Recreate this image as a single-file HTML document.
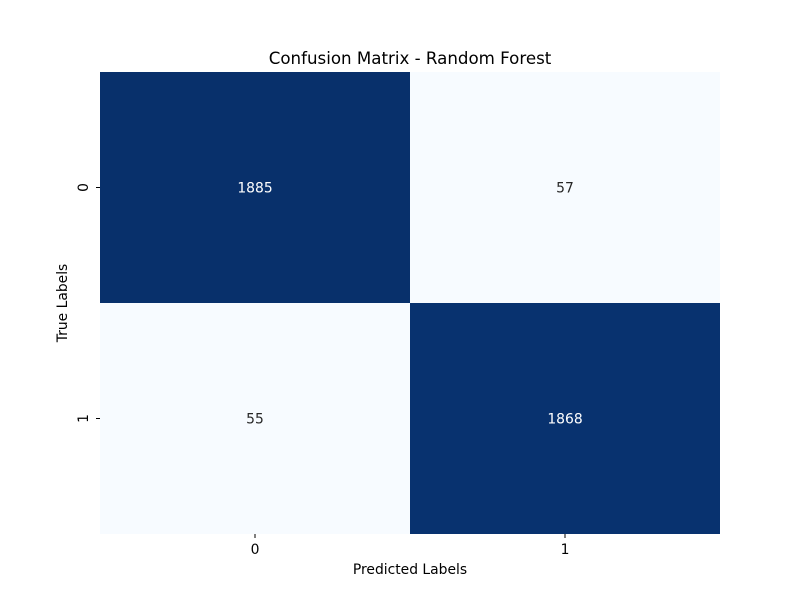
<!DOCTYPE html>
<html><head><meta charset="utf-8"><style>
body{margin:0;background:#fff;}
svg{display:block;font-family:"DejaVu Sans","Liberation Sans",sans-serif;}
</style></head><body>
<svg id="chart" width="800" height="600">
<rect width="800" height="600" fill="#fff"/>
<text x="410" y="64" font-size="16.67" text-anchor="middle">Confusion Matrix - Random Forest</text>
<text x="410" y="574" font-size="13.89" text-anchor="middle">Predicted Labels</text>
<text transform="translate(67,303) rotate(-90)" font-size="13.89" text-anchor="middle">True Labels</text>
<g id="cells"></g>
<g id="ticks"></g>
</svg>
<script>
const predLabels = ["0","1"];
const trueLabels = ["0","1"];
const values = [[1885,57],[55,1868]];

const X0=100,X1=720,Y0=72,Y1=534;
const nx=predLabels.length, ny=trueLabels.length;
const cw=(X1-X0)/nx, ch=(Y1-Y0)/ny;
const xPos=i=>X0+i*cw, yPos=j=>Y0+j*ch;
const flat=values.flat(), vmin=Math.min(...flat), vmax=Math.max(...flat);
const stops=[[247,251,255],[222,235,247],[198,219,239],[158,202,225],[107,174,214],[66,146,198],[33,113,181],[8,81,156],[8,48,107]];
function color(v){
  let t=(v-vmin)/(vmax-vmin||1); t=Math.max(0,Math.min(1,t));
  const p=t*(stops.length-1), i=Math.min(Math.floor(p),stops.length-2), f=p-i;
  const c=stops[i].map((a,k)=>Math.round(a+(stops[i+1][k]-a)*f));
  return {fill:`rgb(${c})`,t};
}
const NS="http://www.w3.org/2000/svg";
const cells=document.getElementById('cells'), ticks=document.getElementById('ticks');
for(let j=0;j<ny;j++)for(let i=0;i<nx;i++){
  const v=values[j][i], c=color(v);
  const r=document.createElementNS(NS,'rect');
  r.setAttribute('x',xPos(i));r.setAttribute('y',yPos(j));
  r.setAttribute('width',cw);r.setAttribute('height',ch);r.setAttribute('fill',c.fill);
  
  
  cells.appendChild(r);
  const t=document.createElementNS(NS,'text');
  t.setAttribute('x',xPos(i)+cw/2);t.setAttribute('y',yPos(j)+ch/2+5);
  t.setAttribute('font-size','13.89');t.setAttribute('text-anchor','middle');
  t.setAttribute('fill',c.t>0.5?'#fff':'#262626');
  t.textContent=v;
  
  
  cells.appendChild(t);
}
predLabels.forEach((l,i)=>{
  const x=xPos(i)+cw/2;
  const ln=document.createElementNS(NS,'line');
  ln.setAttribute('x1',x);ln.setAttribute('x2',x);ln.setAttribute('y1',Y1);ln.setAttribute('y2',Y1+4);
  ln.setAttribute('stroke','#000');ln.setAttribute('stroke-width','1');
  
  
  ticks.appendChild(ln);
  const t=document.createElementNS(NS,'text');
  t.setAttribute('x',x);t.setAttribute('y',Y1+20);t.setAttribute('font-size','13.89');t.setAttribute('text-anchor','middle');
  t.textContent=l;
  
  
  ticks.appendChild(t);
});
trueLabels.forEach((l,j)=>{
  const y=yPos(j)+ch/2;
  const ln=document.createElementNS(NS,'line');
  ln.setAttribute('x1',X0-4);ln.setAttribute('x2',X0);ln.setAttribute('y1',y);ln.setAttribute('y2',y);
  ln.setAttribute('stroke','#000');ln.setAttribute('stroke-width','1');
  
  
  ticks.appendChild(ln);
  const t=document.createElementNS(NS,'text');
  t.setAttribute('transform',`translate(${X0-12},${y}) rotate(-90)`);
  t.setAttribute('font-size','13.89');t.setAttribute('text-anchor','middle');
  t.textContent=l;
  
  
  ticks.appendChild(t);
});
</script>
</body></html>
